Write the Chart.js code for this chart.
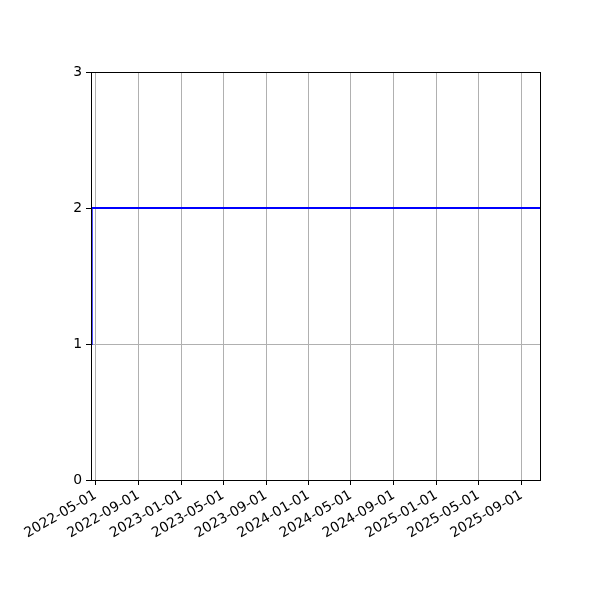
<!DOCTYPE html>
<html>
<head>
<meta charset="utf-8">
<script src="https://cdn.jsdelivr.net/npm/chart.js@4/dist/chart.umd.min.js"></script>
<style>
  html, body { margin: 0; padding: 0; background: #fff; }
  #wrap { width: 600px; height: 600px; }
</style>
</head>
<body>
<div id="wrap"><canvas id="chart" width="600" height="600"></canvas></div>
<script>
// Data
const dates = ['2022-04-18', '2022-04-20', '2025-10-24'];
const values = [1, 2, 2];
const tickDates = [
    '2022-05-01', '2022-09-01', '2023-01-01', '2023-05-01', '2023-09-01', '2024-01-01',
    '2024-05-01', '2024-09-01', '2025-01-01', '2025-05-01', '2025-09-01'
];
const yTicks = [0, 1, 2, 3];

function toMs(s) {
    const p = s.split('-').map(Number);
    return Date.UTC(p[0], p[1] - 1, p[2]);
}

function fmt(ms) {
    const d = new Date(ms);
    const mm = String(d.getUTCMonth() + 1).padStart(2, '0');
    const dd = String(d.getUTCDate()).padStart(2, '0');
    return d.getUTCFullYear() + '-' + mm + '-' + dd;
}

const points = dates.map((d, i) => ({ x: toMs(d), y: values[i] }));

// frame around the plot area, like matplotlib's spines
const frame = {
    id: 'frame',
    afterDraw(chart) {
        const a = chart.chartArea;
        const ctx = chart.ctx;
        ctx.save();
        ctx.strokeStyle = '#000';
        ctx.lineWidth = 1;
        ctx.strokeRect(Math.round(a.left) + 0.5, Math.round(a.top) + 0.5,
            Math.round(a.right - a.left), Math.round(a.bottom - a.top));
        ctx.restore();
    }
};

const font = { family: 'DejaVu Sans', size: 13.9 };

new Chart(document.getElementById('chart'), {
    type: 'line',
    data: {
        datasets: [{
            data: points,
            borderColor: '#0000ff',
            borderWidth: 2,
            pointRadius: 0,
            fill: false,
            tension: 0
        }]
    },
    options: {
        responsive: false,
        animation: false,
        layout: { padding: { left: 0, right: 60, top: 72, bottom: 0 } },
        plugins: { legend: { display: false }, tooltip: { enabled: false } },
        scales: {
            x: {
                type: 'linear',
                min: toMs(dates[0]),
                max: toMs(dates[dates.length - 1]),
                afterBuildTicks: axis => {
                    axis.ticks = tickDates.map(d => ({ value: toMs(d) }));
                },
                afterFit: axis => { axis.height = 120; },
                grid: { color: '#b0b0b0', lineWidth: 1, tickColor: '#000', tickLength: 5 },
                border: { color: '#000', width: 1 },
                ticks: {
                    color: '#000',
                    font: font,
                    minRotation: 30,
                    maxRotation: 30,
                    padding: 2,
                    autoSkip: false,
                    callback: v => fmt(v)
                }
            },
            y: {
                min: 0,
                max: 3,
                afterBuildTicks: axis => {
                    axis.ticks = yTicks.map(v => ({ value: v }));
                },
                afterFit: axis => { axis.width = 91; },
                grid: { color: '#b0b0b0', lineWidth: 1, tickColor: '#000', tickLength: 5 },
                border: { color: '#000', width: 1 },
                ticks: { color: '#000', font: font, padding: 4 }
            }
        }
    },
    plugins: [frame]
});
</script>
</body>
</html>
